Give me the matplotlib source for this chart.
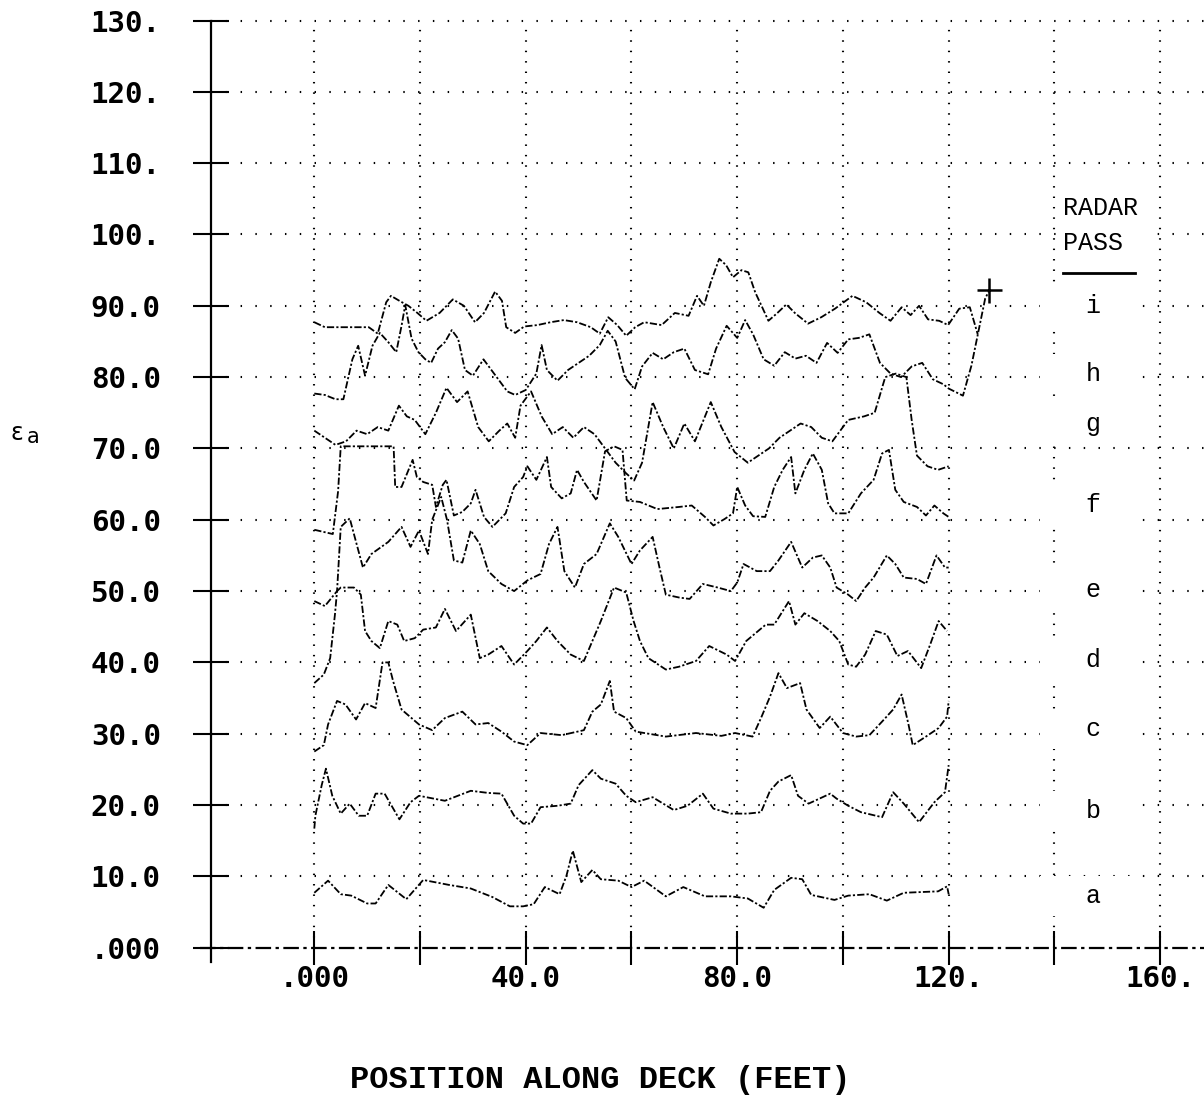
import matplotlib
matplotlib.use("Agg")
import matplotlib.pyplot as plt
from matplotlib.patches import Rectangle

# ---- radar passes: position along deck (ft) and dielectric constant ----
pos_a = [0, 2.6, 5, 7, 10, 11.6, 14, 17.4, 20.6, 25.5, 29.6, 33.7, 37, 39.5, 41.5, 43.6, 46.4, 47.7,
         48.9, 50.5, 52.6, 54.2, 57.5, 60, 62.4, 66.5, 69.8, 73.9, 78.8, 82, 85, 87, 90.2, 92.3, 94,
         98.4, 101, 105, 108.3, 111.5, 118, 119.7, 120]
eps_a = [7.7, 9.4, 7.5, 7.3, 6.2, 6.2, 8.8, 6.8, 9.5, 8.8, 8.3, 7.1, 5.8, 5.8, 6.1, 8.5, 7.5, 10.1,
         13.6, 9.2, 10.9, 9.6, 9.4, 8.5, 9.4, 7.2, 8.5, 7.2, 7.2, 6.9, 5.6, 8.1, 9.8, 9.6, 7.4,
         6.7, 7.3, 7.5, 6.6, 7.7, 7.9, 8.6, 7.5]

pos_b = [0, 0.2, 1.4, 2.2, 3.4, 5, 6.7, 8.4, 10, 11.6, 13.3, 16.1, 18.2, 19.8, 24.7, 29.6, 32.9,
         35.4, 37.8, 39.5, 41, 42.8, 46, 48.5, 50, 52.6, 54.2, 57, 59, 60.8, 64, 68, 70.6, 73.5,
         75.5, 78.8, 82, 84.5, 86.2, 87.8, 90.2, 91.5, 93.5, 97.6, 98.8, 101, 103.4, 107.4, 109.5,
         111.5, 114.4, 117.3, 119.3, 120]
eps_b = [16.7, 18.5, 22.8, 25.1, 21.3, 18.8, 20.2, 18.5, 18.5, 21.6, 21.6, 18.0, 20.4, 21.3, 20.6,
         22.0, 21.7, 21.6, 18.5, 17.4, 17.4, 19.7, 19.9, 20.2, 22.8, 24.9, 23.7, 23.0, 21.3, 20.4,
         21.1, 19.3, 19.9, 21.6, 19.5, 18.8, 18.8, 19.0, 22.0, 23.3, 24.2, 21.3, 20.2, 21.6, 20.9,
         19.9, 19.0, 18.3, 21.8, 20.2, 17.6, 20.4, 21.8, 25.6]

pos_c = [0, 1.8, 2.6, 4.3, 5.9, 7.9, 9.6, 11.6, 12.9, 14, 14.9, 16.5, 19.8, 22.3, 24.7, 28, 30.5,
         32.9, 35.4, 37.8, 40.3, 42.8, 46.8, 51, 52.6, 54.2, 55.9, 56.7, 59, 60.8, 66.5, 72.2, 77,
         79.6, 82.9, 84.5, 86.2, 87.8, 89.4, 91.9, 93.1, 95.6, 97.6, 100, 102.5, 105, 107.4, 109.5,
         111.1, 112.4, 113.2, 115.7, 118.1, 119.7, 120]
eps_c = [27.5, 28.4, 31.3, 34.6, 34.1, 32.0, 34.3, 33.6, 40.0, 40.0, 37.4, 33.4, 31.3, 30.5, 32.2,
         33.1, 31.3, 31.5, 30.3, 28.9, 28.4, 30.1, 29.8, 30.5, 33.1, 34.1, 37.4, 33.1, 32.2, 30.3,
         29.6, 30.1, 29.7, 30.1, 29.6, 32.2, 35.2, 38.5, 36.4, 37.1, 33.4, 30.8, 32.4, 30.1, 29.6,
         29.8, 31.7, 33.4, 35.5, 31.3, 28.4, 29.6, 30.8, 32.4, 34.6]

pos_d = [0, 1.8, 3, 3.9, 4.3, 5, 7.5, 8.8, 9.6, 10.8, 12.4, 14, 15.7, 17, 19, 20.6, 23, 24.7, 26.8,
         29.6, 31.3, 32.9, 35.4, 37.8, 40.3, 42, 44, 46, 48.5, 51, 52.6, 54.2, 56.7, 59, 60.4, 61.6,
         63.2, 66.5, 69, 72.2, 74.7, 78, 79.6, 81.7, 85.4, 87, 89.8, 91, 92.7, 95.2, 97.6, 99.3, 101,
         102.5, 104.2, 106.2, 108.3, 110.3, 112.3, 114.8, 116.5, 118.1, 119.7]
eps_d = [37.1, 38.3, 40.6, 46.7, 50.0, 50.5, 50.5, 49.5, 44.4, 43.0, 42.0, 45.8, 45.3, 43.0, 43.4,
         44.6, 44.9, 47.5, 44.4, 46.7, 40.6, 41.1, 42.3, 39.7, 41.6, 43.0, 44.9, 43.0, 41.1, 40.2,
         43.0, 45.8, 50.5, 49.8, 45.8, 43.0, 40.6, 39.0, 39.4, 40.2, 42.3, 41.1, 40.2, 43.0, 45.3,
         45.3, 48.6, 45.3, 46.9, 45.8, 44.4, 43.0, 39.7, 39.4, 41.1, 44.4, 43.9, 40.9, 41.6, 39.2,
         42.5, 45.8, 44.4]

pos_e = [0, 2, 4.3, 5, 6.7, 8, 9.2, 10.8, 14, 16.5, 18.2, 19.8, 21.5, 22.3, 24, 25.1, 26.4, 28,
         29.6, 31.3, 32.9, 35.4, 37.8, 40.3, 42.8, 44.4, 46, 47.3, 49.3, 51, 53.4, 55.9, 57.5, 60,
         61.6, 64, 65.3, 66.5, 69, 71, 73.5, 76.3, 78.8, 80, 81.2, 83.7, 86.2, 87.8, 90.2, 92.3,
         94.3, 96, 97.6, 98.8, 101, 102.5, 104.2, 105.8, 108.3, 109.9, 111.5, 114, 115.7, 117.7,
         119.3, 120]
eps_e = [48.6, 47.9, 50.0, 59.0, 60.2, 56.6, 53.3, 55.2, 56.9, 59.0, 56.2, 58.5, 55.2, 60.0, 63.2,
         60.0, 54.3, 54.0, 58.5, 56.6, 52.8, 51.0, 50.0, 51.5, 52.4, 56.6, 59.0, 52.8, 50.5, 53.8,
         55.2, 59.5, 57.6, 53.8, 55.7, 57.6, 53.3, 49.5, 49.1, 48.9, 51.0, 50.5, 50.0, 51.2, 53.8,
         52.8, 52.8, 54.3, 56.9, 53.3, 54.7, 55.0, 53.3, 50.5, 49.5, 48.6, 50.5, 51.9, 55.0, 53.8,
         51.9, 51.7, 51.0, 55.0, 53.3, 53.3]

pos_f = [0, 3.5, 4.5, 5, 15, 15.3, 16.5, 18.6, 19.4, 20.6, 22.3, 23, 24.3, 25, 26.4, 28, 29.6,
         30.5, 32.1, 33.7, 36.2, 37.8, 39.5, 40.3, 42, 44, 44.8, 46.8, 48.5, 49.7, 51, 53.4, 55,
         56.7, 58.3, 59.1, 61.6, 64.9, 69, 71.4, 73.9, 75.5, 77.6, 79.2, 80, 81.5, 83, 85.3, 87,
         88.6, 90.2, 91, 92.7, 94.3, 96, 97.2, 98.4, 101, 103.4, 105.8, 107.4, 108.7, 109.9, 111.5,
         114, 115.7, 117.3, 119, 120]
eps_f = [58.6, 58.0, 64.0, 70.3, 70.3, 64.6, 64.6, 68.4, 66.0, 65.3, 64.9, 61.8, 64.9, 65.6, 60.6,
         61.1, 62.3, 64.2, 60.4, 59.0, 60.9, 64.6, 66.0, 67.5, 65.6, 68.8, 64.6, 63.0, 63.7, 67.0,
         65.3, 62.7, 69.6, 70.3, 69.8, 62.7, 62.5, 61.5, 61.8, 62.0, 60.4, 59.2, 60.1, 60.9, 64.6,
         62.0, 60.5, 60.4, 64.6, 67.0, 68.8, 63.7, 67.0, 69.3, 67.0, 62.3, 60.9, 60.9, 63.7, 65.6,
         69.3, 69.8, 64.2, 62.5, 61.8, 60.6, 62.0, 60.9, 60.4]

pos_g = [0, 2, 4, 6, 8, 10, 12, 14, 16, 17.5, 19, 21, 23, 25, 27, 29, 31, 33, 35, 36.5, 38, 39, 41,
         43, 45, 47, 49, 51, 53, 55, 57, 59, 60.5, 62, 64, 66, 68, 70, 72, 75, 77, 79.5, 82, 84, 86,
         88, 90, 92, 94, 96, 98, 101, 104, 106, 107, 108, 110, 112, 113, 114, 116, 118, 120]
eps_g = [72.5, 71.5, 70.5, 71.0, 72.5, 72.0, 73.0, 72.5, 76.0, 74.5, 74.0, 72.0, 75.0, 78.5, 76.5,
         78.0, 73.0, 71.0, 72.5, 73.5, 71.5, 76.0, 78.0, 74.5, 72.0, 73.0, 71.5, 73.0, 72.0, 70.0,
         68.0, 66.5, 65.5, 68.0, 76.5, 73.0, 70.0, 73.5, 71.0, 76.5, 73.0, 69.5, 68.0, 69.0, 70.0,
         71.5, 72.5, 73.5, 73.0, 71.5, 71.0, 74.0, 74.5, 75.0, 77.5, 80.0, 80.5, 80.0, 74.0, 69.0,
         67.5, 67.0, 67.5]

pos_h = [0, 2, 4, 5.5, 6.5, 7.2, 8.3, 9.6, 11, 12.4, 14, 15.5, 16.5, 17.2, 18.4, 19.7, 21, 22.1,
         23.4, 24.7, 26, 27.2, 28.5, 30, 32, 33.5, 35, 36.5, 38, 40, 42, 43, 44, 46, 48, 50, 52, 54,
         55.5, 57, 58.8, 60.6, 62, 64, 66, 68, 70, 72, 74.5, 76, 78, 80, 81.5, 83, 85, 87, 89, 91,
         93, 95, 97, 99, 101, 103, 105, 107, 109, 111, 113, 115, 117, 119, 120, 122.7, 124.3,
         125.6, 126.9, 127.7]
eps_h = [77.7, 77.5, 76.9, 76.9, 80.2, 82.5, 84.4, 80.2, 84.4, 86.2, 84.9, 83.5, 87.2, 90.1, 85.4,
         83.5, 82.5, 82.0, 84.0, 84.9, 86.6, 85.4, 81.0, 80.2, 82.5, 81.0, 79.5, 78.0, 77.5, 78.2,
         80.5, 84.5, 81.0, 79.5, 81.0, 82.0, 83.0, 84.5, 86.5, 85.0, 79.9, 78.3, 81.5, 83.4, 82.5,
         83.5, 84.0, 81.0, 80.4, 84.0, 87.2, 85.5, 88.0, 86.0, 82.5, 81.6, 83.5, 82.6, 83.0, 82.0,
         84.8, 83.4, 85.3, 85.5, 86.0, 82.0, 80.5, 80.0, 81.5, 82.0, 79.7, 79.0, 78.4, 77.4, 81.6,
         86.3, 91.0, 92.2]

pos_i = [0, 2, 5, 8, 10.3, 12, 13.6, 14.5, 16.1, 17.8, 19.5, 21.2, 23.7, 26.2, 28.3, 30.4, 32.1,
         34.2, 35.5, 36.3, 38, 39.7, 42.2, 44.7, 47.2, 49.7, 52.3, 54, 55.6, 57.3, 59, 60.7, 62.4,
         65.7, 68.2, 70.8, 72.4, 73.7, 75, 76.6, 77.9, 79.2, 80.8, 82.1, 83.4, 84.6, 85.9, 87.6,
         89.3, 90.9, 93.4, 95.9, 98.5, 101.8, 104.4, 106.9, 109, 111.1, 112.8, 114.4, 116.1, 118.2,
         119.9, 122, 124, 125.5]
eps_i = [87.7, 87.0, 87.0, 87.0, 87.0, 86.1, 90.5, 91.4, 90.7, 90.0, 89.0, 87.9, 89.0, 90.9, 90.0,
         87.7, 89.0, 92.0, 90.7, 87.0, 86.2, 87.1, 87.3, 87.7, 88.0, 87.7, 87.0, 86.1, 88.4, 87.3,
         85.8, 87.0, 87.7, 87.3, 89.0, 88.6, 91.4, 90.0, 93.3, 96.6, 95.7, 94.0, 95.0, 94.7, 91.9,
         90.0, 87.9, 89.0, 90.2, 89.0, 87.5, 88.4, 89.6, 91.4, 90.5, 89.0, 87.9, 89.8, 88.7, 90.0,
         88.1, 87.9, 87.3, 89.6, 89.8, 86.0]

passes = [(pos_a, eps_a), (pos_b, eps_b), (pos_c, eps_c), (pos_d, eps_d), (pos_e, eps_e),
          (pos_f, eps_f), (pos_g, eps_g), (pos_h, eps_h), (pos_i, eps_i)]

pass_names = ["a", "b", "c", "d", "e", "f", "g", "h", "i"]
name_levels = [7.2, 19.2, 30.6, 40.4, 50.1, 62.1, 73.4, 80.5, 90.0]

x_ticks = [0, 20, 40, 60, 80, 100, 120, 140, 160]
x_tick_labels = [".000", "", "40.0", "", "80.0", "", "120.", "", "160."]
y_ticks = [0, 10, 20, 30, 40, 50, 60, 70, 80, 90, 100, 110, 120, 130]
y_tick_labels = [".000", "10.0", "20.0", "30.0", "40.0", "50.0", "60.0", "70.0", "80.0",
                 "90.0", "100.", "110.", "120.", "130."]

# ---- figure ----
fig = plt.figure(figsize=(12.04, 11.17), dpi=100)
fig.patch.set_facecolor("white")
ax = fig.add_axes([0.1750, 0.15157, 0.8250, 0.83643])
XMIN, XMAX = -19.6, 168.3
ax.set_xlim(XMIN, XMAX)
ax.set_ylim(0, 131)
for s in ax.spines.values():
    s.set_visible(False)

# dotted grid
for yv in y_ticks[1:]:
    ax.plot([XMIN, XMAX], [yv, yv], color="black", lw=1.5,
            ls=(0, (0.7, 6.4)), zorder=1, clip_on=False)
for xv in x_ticks:
    ax.plot([xv, xv], [0, 130], color="black", lw=1.5,
            ls=(0, (0.7, 4.3)), zorder=1)

# axes lines
ax.plot([XMIN, XMIN], [-2.0, 130], color="black", lw=1.6, zorder=3, clip_on=False)
ax.plot([-21.6, XMAX], [0, 0], color="black", lw=1.6, ls=(0, (7, 2, 1.5, 2)),
        zorder=3, clip_on=False)

ax.set_xticks(x_ticks)
ax.set_xticklabels(x_tick_labels)
ax.set_yticks(y_ticks)
ax.set_yticklabels(y_tick_labels)
tick_font = dict(family="DejaVu Sans Mono", weight="bold", size=21)
for lab in ax.get_xticklabels() + ax.get_yticklabels():
    lab.set_fontproperties(matplotlib.font_manager.FontProperties(**tick_font))
ax.tick_params(axis="x", direction="inout", length=25, width=1.5, pad=0)
ax.tick_params(axis="y", direction="inout", length=26, width=1.5, pad=23)

# traces
trace_style = dict(color="black", lw=1.3, ls=(0, (4, 1.2, 1.2, 1.2)), zorder=3)
for xs, ys in passes:
    ax.plot(xs, ys, **trace_style)
ax.plot([pos_h[-1]], [eps_h[-1]], marker="+", ms=18, mew=1.8, color="black", zorder=4)

# legend block
def px_to_x(px):
    return (px - 314.5) / 5.286

def py_to_y(py):
    return (947.7 - py) / 7.134

ax.add_patch(Rectangle((px_to_x(1060), py_to_y(256)), px_to_x(1156) - px_to_x(1060),
                       py_to_y(192) - py_to_y(256), facecolor="white", edgecolor="none",
                       zorder=2, clip_on=False))
legend_font = dict(family="Liberation Mono", size=18)
ax.text(px_to_x(1063), py_to_y(208), "RADAR", ha="left", va="center", zorder=5, **legend_font)
ax.text(px_to_x(1063), py_to_y(243), "PASS", ha="left", va="center", zorder=5, **legend_font)
ax.plot([px_to_x(1063), px_to_x(1135)], [py_to_y(273)] * 2, color="black", lw=2,
        zorder=5, clip_on=False)
for name, lev in zip(pass_names, name_levels):
    half = 20 / 7.134
    ax.add_patch(Rectangle((px_to_x(1040), lev - half), px_to_x(1130) - px_to_x(1040),
                           2 * half, facecolor="white", edgecolor="none", zorder=2))
    ax.text(px_to_x(1093), lev, name, ha="center", va="center", zorder=5, **legend_font)

# axis titles
fig.text(10 / 1204, 1 - 440 / 1117, "\u03b5", ha="left", va="baseline",
         family="DejaVu Sans", size=17)
fig.text(27 / 1204, 1 - 443 / 1117, "a", ha="left", va="baseline",
         family="DejaVu Sans", size=15)
fig.text(600 / 1204, 1 - 1080 / 1117, "POSITION ALONG DECK (FEET)", ha="center",
         va="center", family="Liberation Mono", weight="bold", size=23)

fig.savefig("out.png", dpi=100, facecolor="white")
